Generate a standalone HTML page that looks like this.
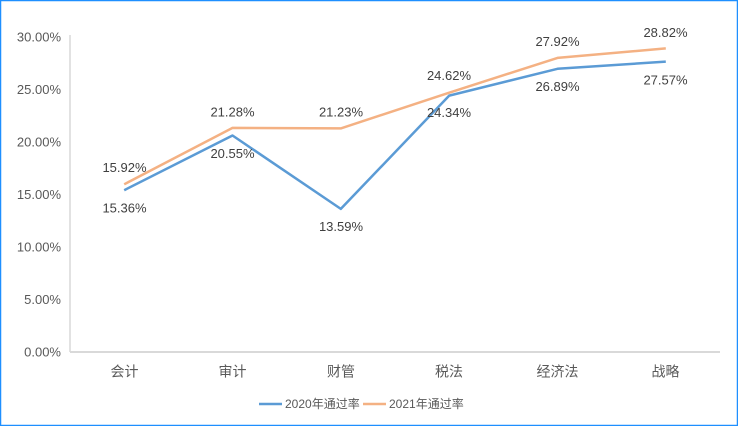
<!DOCTYPE html>
<html><head><meta charset="utf-8"><style>
html,body{margin:0;padding:0;background:#fff;}
#c{position:relative;width:738px;height:426px;overflow:hidden;}
svg{position:absolute;left:0;top:0;}
text{font-family:"Liberation Sans","Noto Sans CJK SC",sans-serif;fill:#404040;}
</style></head><body><div id="c">
<svg width="738" height="426" viewBox="0 0 738 426" xmlns="http://www.w3.org/2000/svg">
<rect x="0.5" y="0.5" width="737" height="425" fill="#fff" stroke="#1E8FFF" stroke-width="1.5"/>
<line x1="70" y1="35" x2="70" y2="352" stroke="#D9D9D9" stroke-width="1.5"/>
<line x1="70" y1="352" x2="720" y2="352" stroke="#D9D9D9" stroke-width="2"/>
<g font-size="13" text-anchor="end" dominant-baseline="central" style="fill:#595959">
<text x="61" y="37" style="fill:#595959">30.00%</text>
<text x="61" y="89.5" style="fill:#595959">25.00%</text>
<text x="61" y="142" style="fill:#595959">20.00%</text>
<text x="61" y="194.5" style="fill:#595959">15.00%</text>
<text x="61" y="247" style="fill:#595959">10.00%</text>
<text x="61" y="299.5" style="fill:#595959">5.00%</text>
<text x="61" y="352" style="fill:#595959">0.00%</text>
</g>
<g font-size="14" text-anchor="middle" dominant-baseline="central">
<text x="124.5" y="371.5" style="fill:#595959">会计</text>
<text x="232.5" y="371.5" style="fill:#595959">审计</text>
<text x="341" y="371.5" style="fill:#595959">财管</text>
<text x="449" y="371.5" style="fill:#595959">税法</text>
<text x="557.5" y="371.5" style="fill:#595959">经济法</text>
<text x="665.5" y="371.5" style="fill:#595959">战略</text>
</g>
<polyline fill="none" stroke="#F4B183" stroke-width="2.5" stroke-linejoin="round" points="124.2,184.3 232.5,127.9 340.8,128.4 449.2,92.7 557.5,57.9 665.8,48.4"/>
<polyline fill="none" stroke="#5B9BD5" stroke-width="2.5" stroke-linejoin="round" points="124.2,190.2 232.5,135.5 340.8,208.9 449.2,95.6 557.5,68.8 665.8,61.6"/>
<g font-size="13" text-anchor="middle" dominant-baseline="central">
<text x="124.5" y="167.7">15.92%</text>
<text x="124.5" y="208">15.36%</text>
<text x="232.5" y="112">21.28%</text>
<text x="232.5" y="153.3">20.55%</text>
<text x="341" y="112">21.23%</text>
<text x="341" y="226.7">13.59%</text>
<text x="449" y="75.7">24.62%</text>
<text x="449" y="112.7">24.34%</text>
<text x="557.5" y="41.7">27.92%</text>
<text x="557.5" y="86.7">26.89%</text>
<text x="665.5" y="32.3">28.82%</text>
<text x="665.5" y="80">27.57%</text>
</g>
<line x1="259" y1="404" x2="282" y2="404" stroke="#5B9BD5" stroke-width="2.5"/>
<text x="285" y="404" font-size="12" dominant-baseline="central" style="fill:#595959">2020年通过率</text>
<line x1="363" y1="404" x2="386" y2="404" stroke="#F4B183" stroke-width="2.5"/>
<text x="389" y="404" font-size="12" dominant-baseline="central" style="fill:#595959">2021年通过率</text>
</svg>
</div></body></html>
